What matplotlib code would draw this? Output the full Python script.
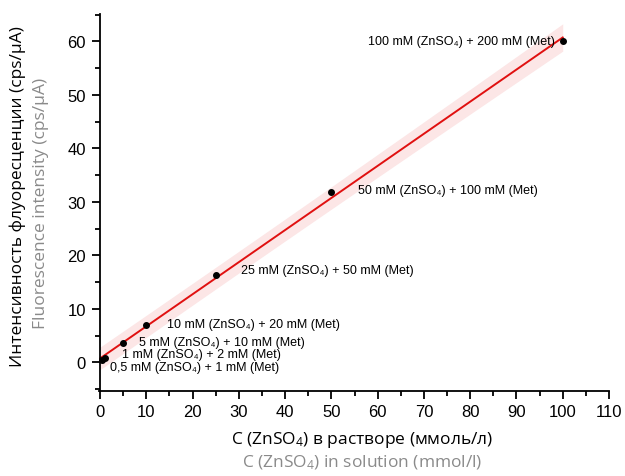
import numpy as np
import matplotlib
matplotlib.use("Agg")
import matplotlib.pyplot as plt
from matplotlib.ticker import MultipleLocator

# Data
conc = [0.5, 1, 5, 10, 25, 50, 100]
intensity = [0.5, 0.8, 3.6, 6.9, 16.4, 31.8, 60.0]
labels = [
    "0,5 mM (ZnSO₄) + 1 mM (Met)",
    "1 mM (ZnSO₄) + 2 mM (Met)",
    "5 mM (ZnSO₄) + 10 mM (Met)",
    "10 mM (ZnSO₄) + 20 mM (Met)",
    "25 mM (ZnSO₄) + 50 mM (Met)",
    "50 mM (ZnSO₄) + 100 mM (Met)",
    "100 mM (ZnSO₄) + 200 mM (Met)",
]
label_pos = [(2.1, -0.9), (4.7, 1.6), (8.5, 3.8), (14.4, 7.2), (30.5, 17.2), (55.7, 32.2), (57.9, 60.0)]

ylabel_ru = "Интенсивность флуоресценции (cps/μA)"
ylabel_en = "Fluorescence intensity (cps/μA)"
xlabel_ru = "C (ZnSO$_4$) в растворе (ммоль/л)"
xlabel_en = "C (ZnSO$_4$) in solution (mmol/l)"

plt.rcParams['font.family'] = ['Liberation Sans', 'DejaVu Sans']
plt.rcParams['mathtext.fontset'] = 'custom'
plt.rcParams['mathtext.rm'] = 'Open Sans'
plt.rcParams['mathtext.it'] = 'Open Sans'

fig = plt.figure(figsize=(6.25, 4.77), dpi=100)
ax = fig.add_axes([0.1578, 0.1782, 0.8166, 0.7904])

x = np.array(conc, float)
y = np.array(intensity, float)
n = len(x)
b, a = np.polyfit(x, y, 1)
xf = np.linspace(0, 100, 200)
yf = a + b * xf
res = y - (a + b * x)
s = np.sqrt(np.sum(res**2) / (n - 2))
t = 2.571
se = s * np.sqrt(1 + 1 / n + (xf - x.mean())**2 / np.sum((x - x.mean())**2))
ax.fill_between(xf, yf - t * se, yf + t * se, color='#fce6e6', lw=0, zorder=1)
ax.plot(xf, yf, color='#e01010', lw=1.4, zorder=2)
ax.plot(x, y, 'o', color='black', ms=4, zorder=3)

for (lx, ly), lab in zip(label_pos, labels):
    ax.text(lx, ly, lab, fontsize=9, va='center', ha='left', zorder=4)

ax.set_xlim(-0.3, 110)
ax.set_ylim(-5.35, 65.1)
ax.xaxis.set_major_locator(MultipleLocator(10))
ax.xaxis.set_minor_locator(MultipleLocator(5))
ax.yaxis.set_major_locator(MultipleLocator(10))
ax.yaxis.set_minor_locator(MultipleLocator(5))
ax.set_yticks(range(0, 61, 10))
for side in ['top', 'right']:
    ax.spines[side].set_visible(False)
ax.spines['left'].set_position(('data', 0))
for side in ['left', 'bottom']:
    ax.spines[side].set_linewidth(1.3)
ax.tick_params(which='major', direction='out', length=6, width=1.3, labelsize=12)
ax.tick_params(which='minor', direction='out', length=3.5, width=1.3)
ax.tick_params(axis='y', pad=4)

lf = ['Open Sans', 'DejaVu Sans']
fig.text(0.029, 0.587, ylabel_ru, rotation=90, ha='center', va='center', fontsize=12.5, family=lf, color='black')
fig.text(0.066, 0.574, ylabel_en, rotation=90, ha='center', va='center', fontsize=12.5, family=lf, color='#8a8a8a')
fig.text(0.58, 0.077, xlabel_ru, ha='center', va='center', fontsize=12.5, family=lf, color='black')
fig.text(0.58, 0.029, xlabel_en, ha='center', va='center', fontsize=12.5, family=lf, color='#8a8a8a')

fig.savefig('out.png', dpi=100)
